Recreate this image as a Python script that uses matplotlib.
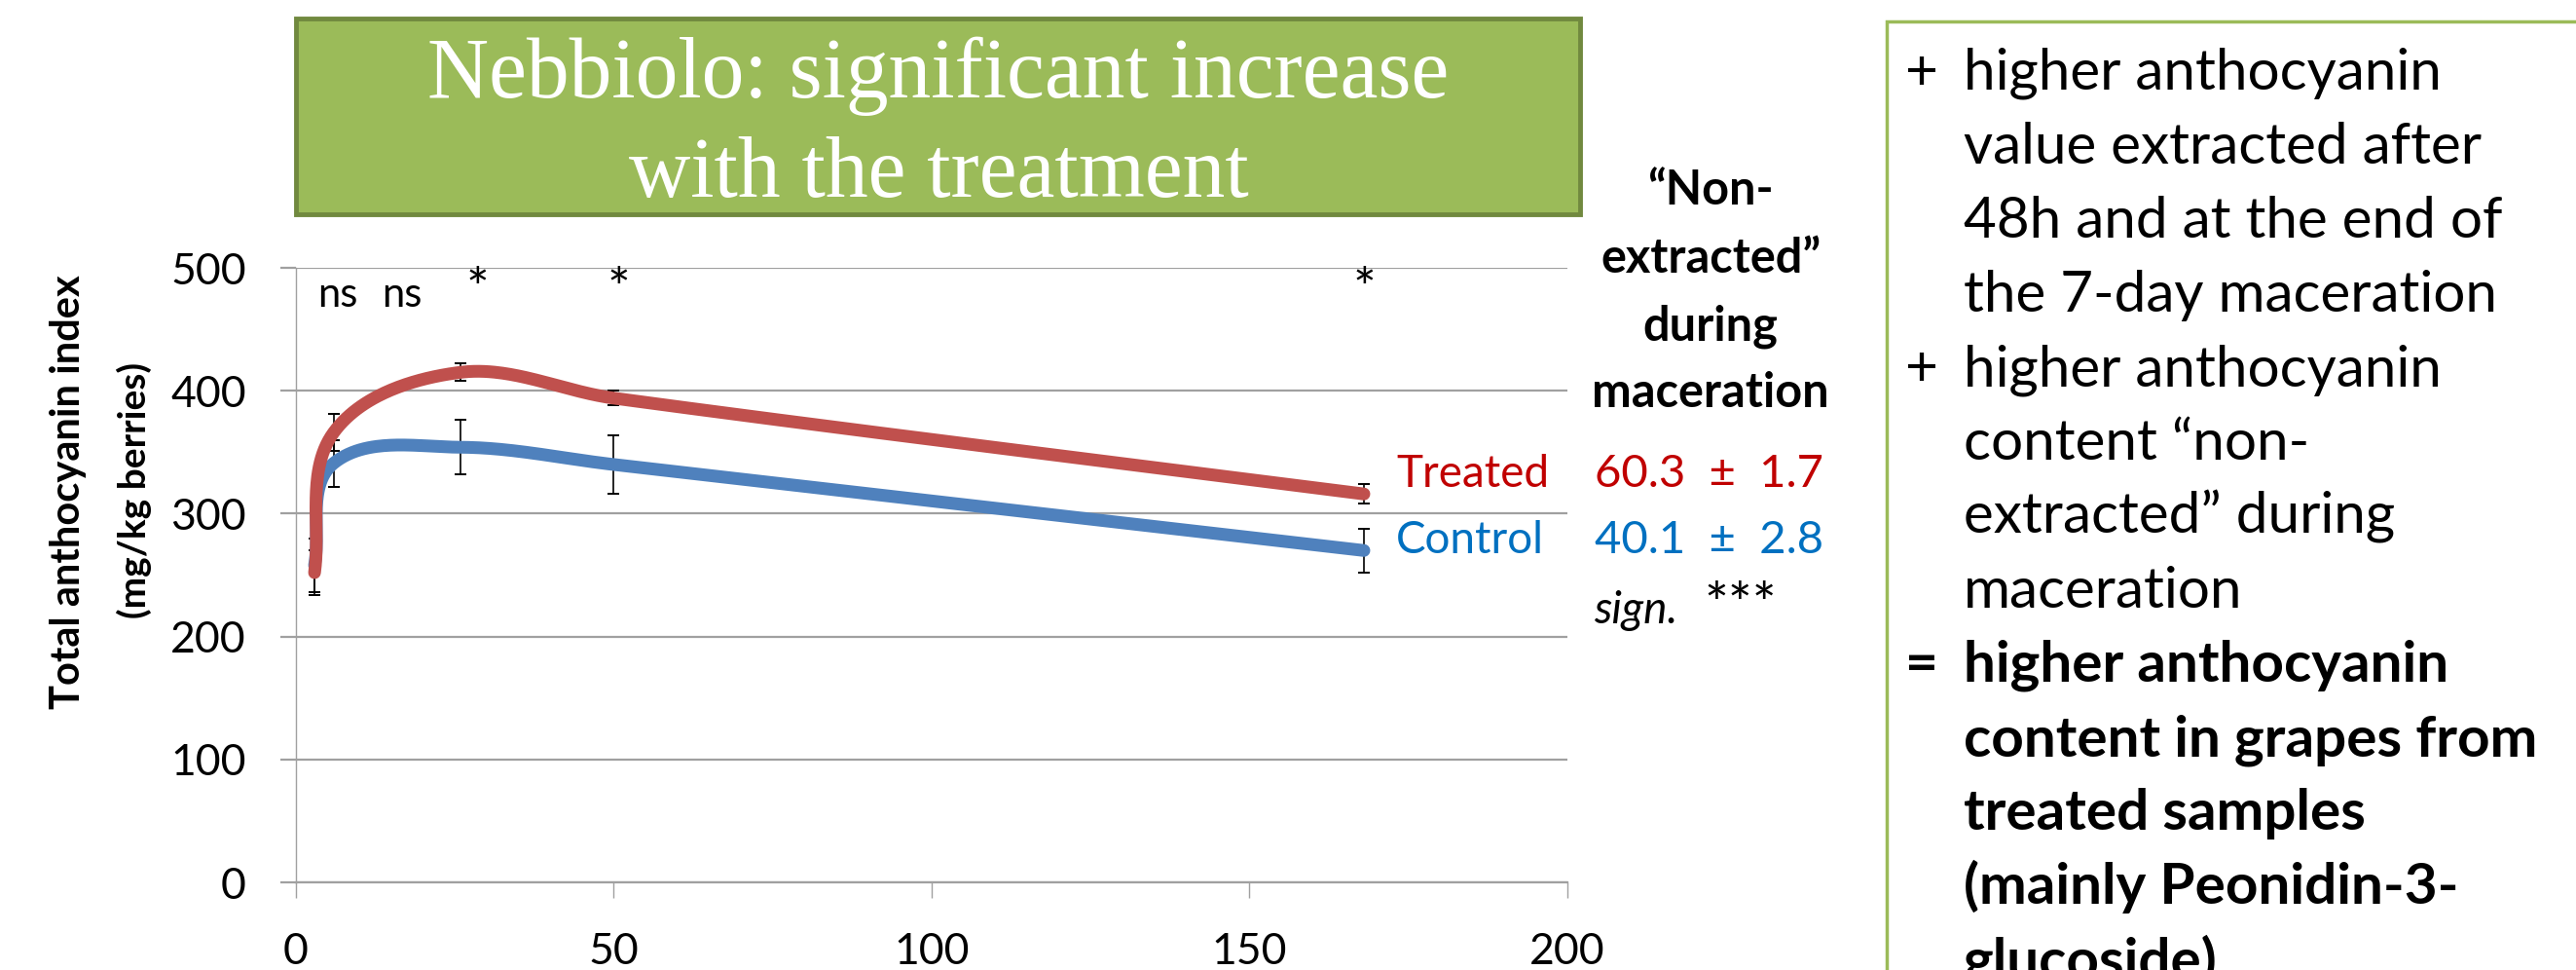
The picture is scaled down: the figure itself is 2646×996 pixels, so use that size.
import numpy as np
import matplotlib
matplotlib.use('Agg')
import matplotlib.pyplot as plt
from matplotlib.patches import Rectangle

plt.rcParams['font.family'] = ['Lato', 'DejaVu Sans']

# data (hours of maceration)
hours = [3, 6, 26, 50, 168]
treated = [252, 366, 415, 394, 316]
treated_err = [18, 15, 7, 6, 8]
control = [258, 341, 354, 340, 270]
control_err = [22, 19, 22, 24, 18]

sig_labels = ['ns', 'ns', '*', '*', '*']
sig_x = [6.7, 16.7, 28.6, 50.8, 168]
sig_y = 468

non_extracted = {'Treated': ('60.3', '1.7'), 'Control': ('40.1', '2.8')}

box_lines = [
    ('+', 'higher anthocyanin', 'normal'),
    ('', 'value extracted after', 'normal'),
    ('', '48h and at the end of', 'normal'),
    ('', 'the 7-day maceration', 'normal'),
    ('+', 'higher anthocyanin', 'normal'),
    ('', 'content \u201cnon-', 'normal'),
    ('', 'extracted\u201d during', 'normal'),
    ('', 'maceration', 'normal'),
    ('=', 'higher anthocyanin', 'bold'),
    ('', 'content in grapes from', 'bold'),
    ('', 'treated samples', 'bold'),
    ('', '(mainly Peonidin-3-', 'bold'),
    ('', 'glucoside)', 'bold'),
]

red_line = '#C0504D'
blue_line = '#4F81BD'
red_txt = '#C00000'
blue_txt = '#0070C0'
grid_c = '#A0A0A0'
green = '#9BBB59'

W, H = 2646, 996
fig = plt.figure(figsize=(W / 100, H / 100), dpi=100)


def fx(px):
    return px / W


def fy(py):
    return 1 - py / H


ax = fig.add_axes([fx(303.5), fy(906), (1610 - 303.5) / W, (906 - 275) / H])
ax.set_xlim(0, 200)
ax.set_ylim(0, 500)
ax.set_xticks(range(0, 201, 50))
ax.set_yticks(range(0, 501, 100))
ax.yaxis.grid(True, color=grid_c, lw=1.6)
ax.set_axisbelow(True)
for s in ['top', 'right']:
    ax.spines[s].set_visible(False)
ax.spines['left'].set_color(grid_c)
ax.spines['left'].set_linewidth(1.0)
ax.spines['bottom'].set_color(grid_c)
ax.spines['bottom'].set_linewidth(1.6)
ax.tick_params(axis='both', direction='out', length=11.5, color=grid_c,
               labelsize=32, pad=25)
ax.tick_params(axis='x', width=1.0)
ax.tick_params(axis='y', width=1.6)


def smooth_line(xs, ys, n=60):
    # cubic bezier through the points, tangents from the neighbours,
    # handle length a third of each segment (done in pixel space)
    p = ax.transData.transform(np.column_stack([xs, ys]))
    tang = np.zeros_like(p)
    for i in range(len(p)):
        d = p[min(i + 1, len(p) - 1)] - p[max(i - 1, 0)]
        tang[i] = d / np.hypot(*d)
    t = np.linspace(0, 1, n)[:, None]
    segs = []
    for i in range(len(p) - 1):
        L = np.hypot(*(p[i + 1] - p[i])) / 3
        c1 = p[i] + tang[i] * L
        c2 = p[i + 1] - tang[i + 1] * L
        segs.append((1 - t) ** 3 * p[i] + 3 * (1 - t) ** 2 * t * c1
                    + 3 * (1 - t) * t ** 2 * c2 + t ** 3 * p[i + 1])
    return ax.transData.inverted().transform(np.vstack(segs))


ax.errorbar(hours, control, yerr=control_err, fmt='none', ecolor='black',
            elinewidth=1.2, capsize=4, capthick=1.4, zorder=2)
ax.errorbar(hours, treated, yerr=treated_err, fmt='none', ecolor='black',
            elinewidth=1.2, capsize=4, capthick=1.4, zorder=2)
c = smooth_line(hours, control)
ax.plot(c[:, 0], c[:, 1], color=blue_line, lw=9.4, solid_capstyle='round', zorder=3)
c = smooth_line(hours, treated)
ax.plot(c[:, 0], c[:, 1], color=red_line, lw=9.4, solid_capstyle='round', zorder=4)

for lab, x in zip(sig_labels, sig_x):
    ax.text(x, sig_y, lab, ha='center', va='baseline',
            fontsize=30 if lab == 'ns' else 40)

# y label, two lines
fig.text(fx(70), fy(505), 'Total anthocyanin index', rotation=90, ha='center',
         va='center', fontsize=30, fontweight='bold')
fig.text(fx(138), fy(503), '(mg/kg berries)', rotation=90, ha='center',
         va='center', fontsize=28, fontweight='bold')

# title box
fig.patches.append(Rectangle((fx(304), fy(220)), (1623 - 304) / W, (220 - 19) / H,
                             transform=fig.transFigure, facecolor=green,
                             edgecolor='#71893F', lw=3.5))
fig.text(fx(964), fy(100), 'Nebbiolo: significant increase', ha='center',
         va='baseline', color='white', fontsize=63, family='Liberation Serif')
fig.text(fx(964), fy(202), 'with the treatment', ha='center',
         va='baseline', color='white', fontsize=63, family='Liberation Serif')

# "non-extracted" column
for i, line in enumerate(['\u201cNon-', 'extracted\u201d', 'during', 'maceration']):
    fig.text(fx(1757), fy(210 + 69.5 * i), line, ha='center', va='baseline',
             fontsize=35, fontweight='bold')

for (name, (m, e)), col, base in zip(non_extracted.items(), [red_txt, blue_txt], [500, 568]):
    fig.text(fx(1434), fy(base), name, ha='left', va='baseline', fontsize=33, color=col)
    fig.text(fx(1638), fy(base), m + '  \u00b1  ' + e, ha='left', va='baseline',
             fontsize=34, color=col)
fig.text(fx(1637), fy(640), 'sign.', ha='left', va='baseline', fontsize=33, style='italic')
fig.text(fx(1750), fy(640), '***', ha='left', va='baseline', fontsize=42)

# right text box
fig.patches.append(Rectangle((fx(1938), fy(1100)), (2800 - 1938) / W, (1100 - 22) / H,
                             transform=fig.transFigure, facecolor='white',
                             edgecolor=green, lw=2.5, clip_on=True))
for i, (bullet, line, w) in enumerate(box_lines):
    y = fy(92 + 76 * i)
    if bullet:
        fig.text(fx(1974), y, bullet, ha='center', va='baseline', fontsize=42,
                 fontweight='bold' if w == 'bold' else 'normal')
    fig.text(fx(2017), y, line, ha='left', va='baseline', fontsize=42, fontweight=w)

fig.savefig('out.png', dpi=100)
